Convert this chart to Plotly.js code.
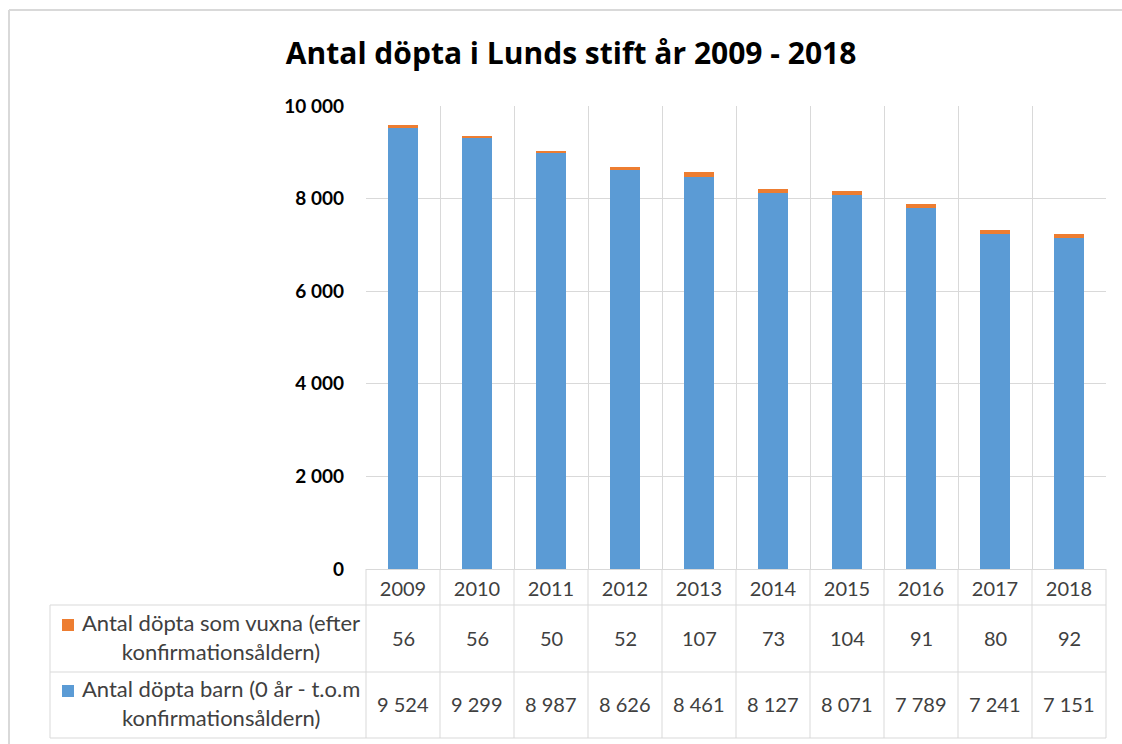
<!DOCTYPE html>
<html>
<head>
<meta charset="utf-8">
<script src="https://cdn.plot.ly/plotly-3.0.1.min.js"></script>
<style>html,body{margin:0;padding:0;background:#fff;}#chart{width:1122px;height:744px;}</style>
</head>
<body>
<div id="chart"></div>
<script>
const years = ['2009','2010','2011','2012','2013','2014','2015','2016','2017','2018'];
const barn = [9524, 9299, 8987, 8626, 8461, 8127, 8071, 7789, 7241, 7151];
const vuxna = [56, 56, 50, 52, 107, 73, 104, 91, 80, 92];
const nameVuxna = 'Antal döpta som vuxna (efter<br>konfirmationsåldern)';
const nameBarn = 'Antal döpta barn (0 år - t.o.m<br>konfirmationsåldern)';
const titleText = 'Antal döpta i Lunds stift år 2009 - 2018';

const BLUE = '#5B9BD5', ORANGE = '#ED7D31', GRID = '#d9d9d9', TXT = '#404040';
const FONT = 'Lato, "Liberation Sans", sans-serif';
const TFONT = '"Open Sans", Lato, sans-serif';

// geometry of plot area (pixels)
const W = 1122, H = 744, L = 366, R = 1106, T = 106, B = 569;
const px = x => (x - L) / (R - L);
const py = y => (B - y) / (B - T);

function fmt(n){ return String(n).replace(/\B(?=(\d{3})+(?!\d))/g, ' '); }

const traces = [
  {type:'bar', x: years, y: barn, name: nameBarn, marker:{color: BLUE, line:{width:0}}, hoverinfo:'x+y'},
  {type:'bar', x: years, y: vuxna, name: nameVuxna, marker:{color: ORANGE, line:{width:0}}, hoverinfo:'x+y'}
];

const shapes = [];
const annotations = [];
const lineStyle = {color: GRID, width: 1};

// outer chart border
shapes.push({type:'line', xref:'paper', yref:'paper', x0: px(9), x1: px(9), y0: py(H+5), y1: py(10), line:{color:GRID, width:2}});
shapes.push({type:'line', xref:'paper', yref:'paper', x0: px(9), x1: px(W+5), y0: py(10), y1: py(10), line:{color:GRID, width:2}});

// table vertical lines at category boundaries
for (let i = 0; i <= years.length; i++) {
  const xx = i / years.length;
  shapes.push({type:'line', xref:'paper', yref:'paper', x0: xx, x1: xx, y0: 0, y1: py(738), line: lineStyle});
}
// table horizontal lines
[605, 672, 738].forEach(yy => {
  shapes.push({type:'line', xref:'paper', yref:'paper', x0: px(50), x1: 1, y0: py(yy), y1: py(yy), line: lineStyle});
});
shapes.push({type:'line', xref:'paper', yref:'paper', x0: px(50), x1: px(50), y0: py(605), y1: py(738), line: lineStyle});

// legend keys
[[ORANGE, 625], [BLUE, 691]].forEach(([c, yy]) => {
  shapes.push({type:'rect', xref:'paper', yref:'paper', x0: px(62), x1: px(74), y0: py(yy - 6), y1: py(yy + 6), fillcolor: c, line:{width:0}});
});

// row headers
annotations.push({xref:'paper', yref:'paper', x: px(221), y: py(637), xanchor:'center', yanchor:'middle', text: nameVuxna, showarrow:false, align:'center',
  font:{family: FONT, size: 22, color: TXT}});
annotations.push({xref:'paper', yref:'paper', x: px(221), y: py(703), xanchor:'center', yanchor:'middle', text: nameBarn, showarrow:false, align:'center',
  font:{family: FONT, size: 22, color: TXT}});

// table values (x = category index on the category axis)
years.forEach((yr, i) => {
  annotations.push({xref:'x', yref:'paper', x: i, y: py(638), xanchor:'center', yanchor:'middle', text: fmt(vuxna[i]), showarrow:false,
    font:{family: FONT, size: 20, color: TXT}});
  annotations.push({xref:'x', yref:'paper', x: i, y: py(704), xanchor:'center', yanchor:'middle', text: fmt(barn[i]), showarrow:false,
    font:{family: FONT, size: 20, color: TXT}});
});

const layout = {
  width: W, height: H,
  margin: {l: L, r: W - R, t: T, b: H - B, pad: 0},
  paper_bgcolor: '#fff', plot_bgcolor: '#fff',
  separators: ', ',
  barmode: 'stack',
  bargap: 0.6,
  showlegend: false,
  title: {text: '<b>' + titleText + '</b>', x: 0.509, xanchor:'center', y: 1 - 53/H, yanchor:'middle',
    font:{family: TFONT, size: 30, color: '#000'}},
  xaxis: {type:'category', range:[-0.5, years.length - 0.5], autorange:false, tickson:'boundaries', showgrid:true, gridcolor: GRID, gridwidth:1,
    ticks:'', showline:false, zeroline:false, ticklabelstandoff: 6,
    tickfont:{family: FONT, size: 20, color: TXT}, fixedrange:true},
  yaxis: {range:[0, 10000], autorange:false, dtick: 2000, tickformat: ',d', showgrid:true, gridcolor: GRID, gridwidth:1,
    zeroline:true, zerolinecolor: GRID, zerolinewidth:1, showline:false, ticks:'',
    ticklabelstandoff: 21,
    tickfont:{family: FONT, size: 19, color: '#000', weight: 'bold'}, fixedrange:true},
  shapes: shapes,
  annotations: annotations
};

Plotly.newPlot('chart', traces, layout, {displayModeBar:false, staticPlot:true});
</script>
</body>
</html>
